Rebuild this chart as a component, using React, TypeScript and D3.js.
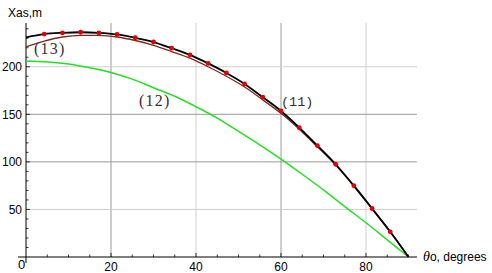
import React from "react";
import * as d3 from "d3";

const greenAngles = [0, 5, 10, 15, 20, 25, 30, 35, 40, 45, 50, 55, 60, 65, 70, 75, 80, 85, 90];
const greenValues = [206, 205, 203, 199, 194, 187, 178, 169, 158, 146, 132, 118, 103, 87, 70.5, 53, 36, 18, 0];

const curveAngles = [0, 4.29, 8.57, 12.86, 17.14, 21.43, 25.71, 30, 34.29, 38.57, 42.86, 47.14, 51.43, 55.71, 60, 64.29, 68.57, 72.86, 77.14, 81.43, 85.71, 90];
const blackValues = [231, 234.4, 235.7, 236.3, 235.7, 234, 230.5, 226, 219.5, 212.5, 203.5, 193.5, 182, 168, 153.5, 136, 117, 97.5, 75, 51, 26.5, 0];
const brownValues = [221, 227, 231.3, 233, 233, 231.3, 227.6, 222.6, 216, 209, 200, 190, 178.7, 165.2, 151, 134.3, 115.8, 96.6, 74.4, 50.7, 26.3, 0];

const dotAngles = [4.29, 8.57, 12.86, 17.14, 21.43, 25.71, 30, 34.29, 38.57, 42.86, 47.14, 51.43, 55.71, 60, 64.29, 68.57, 72.86, 77.14, 81.43, 85.71];
const dotValues = [234.4, 235.6, 236.3, 235.6, 234, 230.5, 226, 219.5, 212.5, 203.5, 193.5, 182, 168, 153.5, 136, 117, 97.5, 75, 51, 26.5];

const xTicks = [20, 40, 60, 80];
const yTicks = [50, 100, 150, 200];
const darkX = [20, 60];
const darkY = [100, 150];

export default function App() {
  const x = d3.scaleLinear().domain([0, 92]).range([26, 417]);
  const y = d3.scaleLinear().domain([0, 246]).range([257, 23]);

  const line = (xs: number[], ys: number[]) =>
    d3
      .line<number>()
      .x((_, i) => x(xs[i]))
      .y((d) => y(d))
      .curve(d3.curveMonotoneX)(ys) || "";

  const xMinor = d3.range(5, 91, 5);
  const yMinor = d3.range(10, 241, 10);
  const sans = "Liberation Sans, Arial, sans-serif";
  const serif = "Liberation Serif, Times New Roman, serif";

  return (
    <svg
      width={492}
      height={273}
      style={{ position: "absolute", left: 0, top: 0, background: "#fff" }}
    >
      {/* grid */}
      {xTicks.map((t) => (
        <line
          key={"gx" + t}
          x1={x(t)}
          x2={x(t)}
          y1={y(246)}
          y2={y(0)}
          stroke={darkX.includes(t) ? "#9a9a9a" : "#cfcfcf"}
          strokeWidth={1}
        />
      ))}
      {yTicks.map((t) => (
        <line
          key={"gy" + t}
          x1={x(0)}
          x2={x(92)}
          y1={y(t)}
          y2={y(t)}
          stroke={darkY.includes(t) ? "#9a9a9a" : "#cfcfcf"}
          strokeWidth={1}
        />
      ))}

      {/* axes */}
      <line x1={18} x2={x(92)} y1={y(0)} y2={y(0)} stroke="#000" strokeWidth={1.2} />
      <line x1={x(0)} x2={x(0)} y1={y(246)} y2={y(0) + 6} stroke="#000" strokeWidth={1} />
      {xMinor.map((t) => (
        <line key={"mx" + t} x1={x(t)} x2={x(t)} y1={y(0)} y2={y(0) - (t % 20 === 0 ? 4 : 2.5)} stroke="#000" strokeWidth={0.8} />
      ))}
      {yMinor.map((t) => (
        <line key={"my" + t} x1={x(0)} x2={x(0) + (t % 50 === 0 ? 4 : 2.5)} y1={y(t)} y2={y(t)} stroke="#000" strokeWidth={0.8} />
      ))}

      {/* tick labels */}
      {yTicks.map((t) => (
        <text key={"ly" + t} x={22} y={y(t) + 4.5} textAnchor="end" fontFamily={sans} fontSize={12} fill="#000">
          {t}
        </text>
      ))}
      {xTicks.map((t) => (
        <text key={"lx" + t} x={x(t)} y={271} textAnchor="middle" fontFamily={sans} fontSize={12} fill="#000">
          {t}
        </text>
      ))}
      <text x={21.5} y={269} textAnchor="middle" fontFamily={sans} fontSize={13} fill="#000">
        0
      </text>

      {/* axis titles */}
      <text x={8} y={17} fontFamily={sans} fontSize={12} fill="#000">
        Xas,m
      </text>
      <text x={423} y={261} fontFamily={sans} fontSize={12} fill="#000">
        <tspan fontFamily={serif} fontStyle="italic" fontSize={14}>
          θ
        </tspan>
        o, degrees
      </text>

      {/* curves */}
      <path d={line(greenAngles, greenValues)} fill="none" stroke="#22e022" strokeWidth={1.5} />
      <path d={line(curveAngles, brownValues)} fill="none" stroke="#7a2a1c" strokeWidth={1.3} />
      <path d={line(curveAngles, blackValues)} fill="none" stroke="#000" strokeWidth={1.8} />
      {dotAngles.map((a, i) => (
        <circle key={"d" + i} cx={x(a)} cy={y(dotValues[i])} r={2.4} fill="#e00000" />
      ))}

      {/* curve labels */}
      <text x={34} y={54} fontFamily={serif} fontSize={16} letterSpacing={1.2} fill="#3a3030">
        (13)
      </text>
      <text x={139} y={106} fontFamily={serif} fontSize={16} letterSpacing={1.2} fill="#3a3030">
        (12)
      </text>
      <text x={281} y={106} fontFamily="Liberation Mono, Courier New, monospace" fontSize={13.5} fill="#3a3030">
        (11)
      </text>
    </svg>
  );
}
